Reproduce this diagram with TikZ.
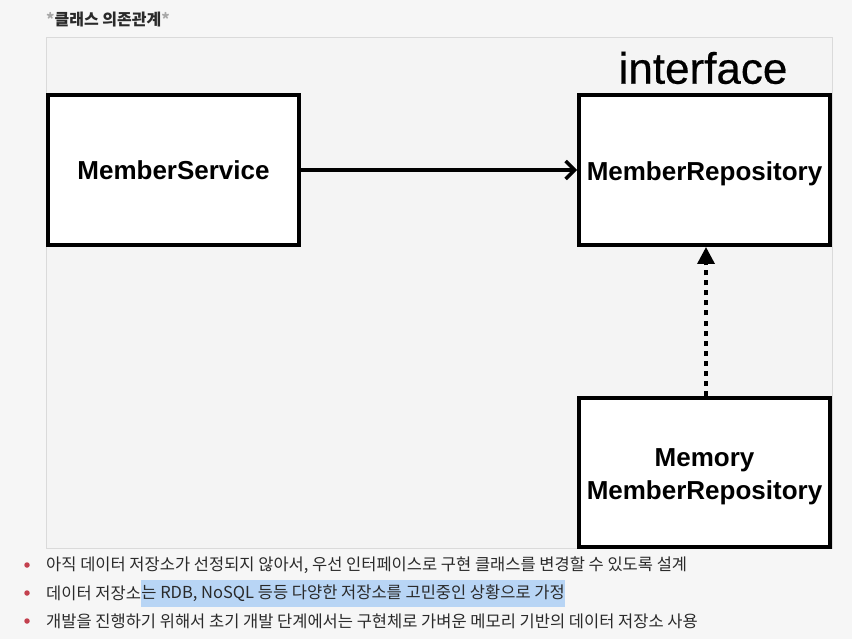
\documentclass[tikz,border=0pt]{standalone}
\usepackage{fontspec}
\setmainfont{Liberation Sans}
\newfontfamily\kr{Noto Sans CJK KR}
\usetikzlibrary{arrows.meta}
\definecolor{pagebg}{HTML}{F6F6F6}
\definecolor{panelbg}{HTML}{F4F4F4}
\definecolor{panelline}{HTML}{DADADA}
\definecolor{txt}{HTML}{2A2A2A}
\definecolor{star}{HTML}{A8A8A8}
\definecolor{bulletred}{HTML}{C3404E}
\definecolor{hilite}{HTML}{B8D5F5}
\tikzset{
  classbox/.style={draw=black, line width=4pt, fill=white, inner sep=0pt,
    font=\fontsize{26}{33}\selectfont\bfseries, align=center, text=black,
    text depth=0pt},
  bullettext/.style={anchor=west, inner sep=0pt, text=txt,
    font=\kr\fontsize{16.5}{18}\selectfont},
  bulletdot/.style={circle, fill=bulletred, inner sep=0pt, minimum size=5.5pt},
}
\begin{document}
\begin{tikzpicture}[x=1pt,y=-1pt]
\useasboundingbox (0,0) rectangle (852,639);
\fill[pagebg] (0,0) rectangle (852,639);
\draw[panelline, fill=panelbg, line width=1pt] (46,38) rectangle (832,548);
\node[anchor=west, inner sep=0pt, font=\kr\fontsize{16}{18}\selectfont\bfseries, text=txt] (title) at (46,20)
  {\textcolor{star}{*}클래스 의존관계\textcolor{star}{*}};
\node[classbox, text height=20pt, minimum width=251pt, minimum height=150pt] (ms) at (173.5,170) {MemberService};
\node[classbox, text height=21pt, minimum width=251pt, minimum height=150pt] (mr) at (704.5,170) {MemberRepository};
\node[classbox, text height=55pt, minimum width=251pt, minimum height=149pt] (mm) at (704.5,472) {Memory\\MemberRepository};
\node[inner sep=0pt, font=\fontsize{44}{44}\selectfont\addfontfeature{FakeBold=0.4}, text=black] (iface) at (703,68) {interface};
\draw[line width=3.5pt, -{Straight Barb[length=9pt,width=18pt]}] (ms.east) -- (mr.west);
\coordinate (dstart) at (mm.north -| 706,0);
\coordinate (dend) at (mr.south -| 706,0);
\draw[line width=3.5pt, dash pattern=on 5pt off 5pt, -{Triangle[length=17pt,width=17pt]}] (dstart) -- (dend);
\node[bulletdot] (d1) at (27,565) {};
\node[bulletdot] (d2) at (27,593) {};
\node[bulletdot] (d3) at (27,621) {};
\node[bullettext] (b1) at (46,565) {아직 데이터 저장소가 선정되지 않아서, 우선 인터페이스로 구현 클래스를 변경할 수 있도록 설계};
\node[bullettext] (b2a) at (46,593) {데이터 저장소};
\node[bullettext, fill=hilite, minimum height=27pt] (b2b) at (b2a.east) {는 RDB, NoSQL 등등 다양한 저장소를 고민중인 상황으로 가정\hspace{3pt}};
\node[bullettext] (b3) at (46,621) {개발을 진행하기 위해서 초기 개발 단계에서는 구현체로 가벼운 메모리 기반의 데이터 저장소 사용};
\end{tikzpicture}
\end{document}
